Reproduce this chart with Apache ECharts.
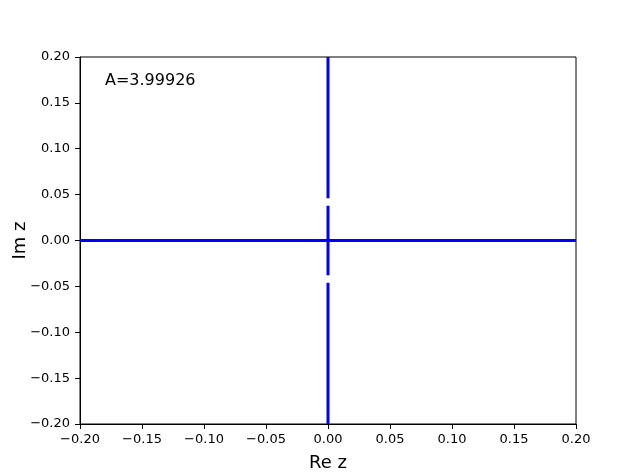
<!DOCTYPE html>
<html><head><meta charset="utf-8">
<script src="https://cdn.jsdelivr.net/npm/echarts@6/dist/echarts.min.js"></script>
<style>html,body{margin:0;padding:0;background:#fff}#c{width:640px;height:476px}</style>
</head><body><div id="c"></div>
<script>
const xTicks = [-0.2, -0.15, -0.1, -0.05, 0, 0.05, 0.1, 0.15, 0.2];
const yTicks = [-0.2, -0.15, -0.1, -0.05, 0, 0.05, 0.1, 0.15, 0.2];
const realAxisLine = [[-0.2, 0], [0.2, 0]];
const imagUpper = [[0, 0.046], [0, 0.2]];
const imagMiddle = [[0, -0.038], [0, 0.038]];
const imagLower = [[0, -0.2], [0, -0.046]];
const annotation = "A=3.99926";

const fmt = v => (v < 0 ? "\u2212" : "") + Math.abs(v).toFixed(2);
const font = "DejaVu Sans";
const lineStyle = {color: "#0000ff", width: 3};
function seg(d){
  return {type: "line", data: d, symbol: "none", lineStyle: lineStyle, animation: false, silent: true};
}
const chart = echarts.init(document.getElementById("c"), null, {renderer: "canvas"});
chart.setOption({
  animation: false,
  grid: {left: 80, right: 64, top: 57, bottom: 52, containLabel: false, outerBoundsMode: "none", show: true, borderColor: "#000", borderWidth: 1, backgroundColor: "transparent"},
  xAxis: {
    type: "value", min: -0.2, max: 0.2, interval: 0.05,
    name: "Re z", nameLocation: "middle", nameGap: 30,
    nameTextStyle: {fontFamily: font, fontSize: 18, color: "#000"},
    axisLine: {show: true, onZero: false, lineStyle: {color: "#000"}},
    axisTick: {show: true, length: 5, inside: false, lineStyle: {color: "#000"}},
    axisLabel: {formatter: fmt, fontFamily: font, fontSize: 13, color: "#000", margin: 9},
    splitLine: {show: false}
  },
  yAxis: {
    type: "value", min: -0.2, max: 0.2, interval: 0.05,
    name: "Im z", nameLocation: "middle", nameGap: 51, nameRotate: 90, nameMoveOverlap: false,
    nameTextStyle: {fontFamily: font, fontSize: 18, color: "#000"},
    axisLine: {show: true, onZero: false, lineStyle: {color: "#000"}},
    axisTick: {show: true, length: 5, inside: false, lineStyle: {color: "#000"}},
    axisLabel: {formatter: fmt, fontFamily: font, fontSize: 13, color: "#000", margin: 10},
    splitLine: {show: false}
  },
  graphic: [{type: "text", left: 105, top: 73, style: {text: annotation, fontFamily: font, fontSize: 16, fill: "#000"}}],
  series: [seg(realAxisLine), seg(imagUpper), seg(imagMiddle), seg(imagLower)]
});
</script></body></html>
